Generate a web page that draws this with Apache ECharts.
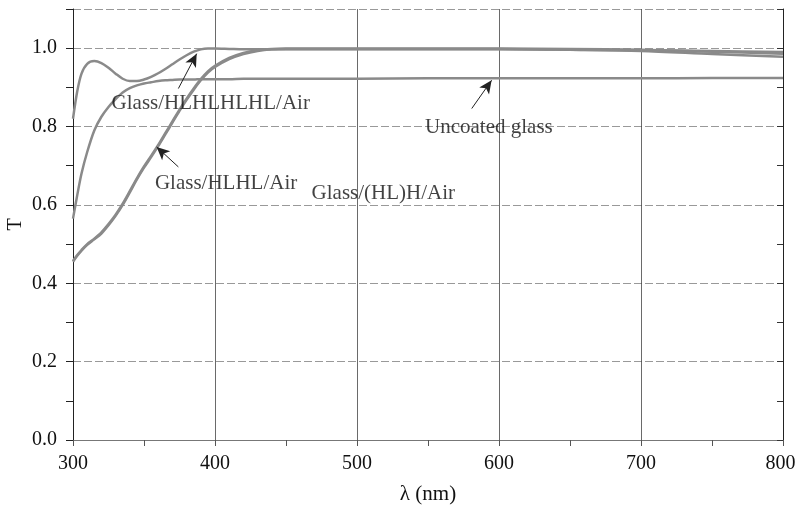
<!DOCTYPE html>
<html>
<head>
<meta charset="utf-8">
<script src="https://cdn.jsdelivr.net/npm/echarts@6/dist/echarts.min.js"></script>
<style>html,body{margin:0;padding:0;background:#fff}#c{width:795px;height:510px}</style>
</head>
<body>
<div id="c"></div>
<script>
// Wavelength grid (nm)
const wavelength = [300,303,306,310,315,320,325,330,335,340,345,350,355,360,365,370,375,380,385,390,395,400,410,420,430,440,450,475,500,550,600,650,700,750,800];
// Transmittance curves
const tHLHLHLHL = [0.82,0.89,0.935,0.96,0.967,0.962,0.95,0.935,0.922,0.916,0.916,0.92,0.927,0.936,0.947,0.959,0.971,0.982,0.991,0.997,0.999,0.999,0.998,0.997,0.997,0.997,0.997,0.997,0.997,0.997,0.997,0.996,0.995,0.993,0.99];
const tUncoated = [0.565,0.625,0.68,0.735,0.79,0.825,0.85,0.87,0.887,0.898,0.905,0.91,0.913,0.916,0.918,0.919,0.92,0.92,0.92,0.921,0.921,0.921,0.921,0.922,0.922,0.922,0.922,0.922,0.922,0.923,0.923,0.923,0.923,0.924,0.924];
const tHLHL = [0.455,0.47,0.483,0.498,0.512,0.527,0.548,0.572,0.6,0.632,0.665,0.695,0.722,0.75,0.78,0.81,0.84,0.868,0.894,0.918,0.938,0.952,0.972,0.985,0.993,0.997,0.998,0.998,0.998,0.998,0.998,0.996,0.993,0.985,0.978];
const tHLH = [0.457,0.472,0.485,0.5,0.514,0.53,0.551,0.575,0.603,0.635,0.668,0.698,0.725,0.753,0.783,0.813,0.843,0.871,0.897,0.921,0.941,0.955,0.975,0.988,0.995,0.998,0.999,0.999,0.999,0.999,0.999,0.998,0.996,0.991,0.986];
// Annotations
const annoText = ['Glass/HLHLHLHL/Air','Uncoated glass','Glass/HLHL/Air','Glass/(HL)H/Air'];
const annoX = [327.2,547.9,357.7,468];
const annoY = [0.859,0.798,0.655,0.629];
const arrowTail = [[374.2,0.897],[580.8,0.846],[374.2,0.697]];
const arrowHead = [[387.1,0.986],[594.8,0.918],[358.9,0.748]];
// Axis labels
const xName = 'λ (nm)';
const yName = 'T';

const font = 'Liberation Serif';
const zip = t => wavelength.map((w,i)=>[w,t[i]]);
const curveStyle = {color:'#8a8a8a', width:2.5};
function curve(name, t){
  return {name, type:'line', data:zip(t), smooth:0.3, showSymbol:false, symbol:'none',
    lineStyle:curveStyle, xAxisIndex:0, yAxisIndex:0, z:3, animation:false};
}
const chart = echarts.init(document.getElementById('c'));
chart.setOption({
  animation:false,
  backgroundColor:'#fff',
  grid:{left:73, right:12, top:9, bottom:70, containLabel:false, outerBoundsMode:'none'},
  xAxis:[
    {type:'value', min:300, max:800, interval:50, position:'bottom',
     name:xName, nameLocation:'middle', nameGap:44,
     nameTextStyle:{fontFamily:font, fontSize:21, color:'#111'},
     axisLine:{show:true, lineStyle:{color:'#222', width:1}},
     axisTick:{show:true, inside:false, length:6, lineStyle:{color:'#222'}},
     axisLabel:{fontFamily:font, fontSize:20, color:'#111', margin:14,
       formatter:v => (v%100!==0 ? '' : (v===800 ? '{e|800}' : String(v))),
       rich:{e:{fontFamily:font, fontSize:20, color:'#111', padding:[0,5,0,0]}}},
     splitLine:{show:false}},
    {type:'value', min:300, max:800, interval:50, position:'top',
     axisLine:{show:true, lineStyle:{color:'#777', width:1}},
     axisTick:{show:true, inside:true, length:6, lineStyle:{color:'#555'}},
     axisLabel:{show:false}, splitLine:{show:false}},
    {type:'value', min:300, max:800, interval:100, show:true, position:'bottom',
     axisLine:{show:false}, axisTick:{show:false}, axisLabel:{show:false},
     splitLine:{show:true, lineStyle:{color:'#444', width:0.8}}}
  ],
  yAxis:[
    {type:'value', min:0, max:1.1, interval:0.1, position:'left',
     name:yName, nameLocation:'middle', nameGap:47, nameRotate:90, nameMoveOverlap:false,
     nameTextStyle:{fontFamily:font, fontSize:20, color:'#111'},
     axisLine:{show:true, lineStyle:{color:'#222', width:1}},
     axisTick:{show:true, inside:false, length:7, lineStyle:{color:'#222'}},
     axisLabel:{fontFamily:font, fontSize:20, color:'#111', margin:16,
       formatter:v => (Math.round(v*10)%2===0 ? v.toFixed(1) : '')},
     splitLine:{show:false}},
    {type:'value', min:0, max:1.1, interval:0.1, position:'right',
     axisLine:{show:true, lineStyle:{color:'#222', width:1}},
     axisTick:{show:true, inside:true, length:6, lineStyle:{color:'#333'}},
     axisLabel:{show:false}, splitLine:{show:false}},
    {type:'value', min:0, max:1.1, interval:0.2, show:true, position:'left',
     axisLine:{show:false}, axisTick:{show:false}, axisLabel:{show:false},
     splitLine:{show:true, lineStyle:{color:'#999', width:1, type:[8,3]}}}
  ],
  series:[
    curve('Glass/HLHLHLHL/Air', tHLHLHLHL),
    curve('Uncoated glass', tUncoated),
    curve('Glass/HLHL/Air', tHLHL),
    curve('Glass/(HL)H/Air', tHLH),
    {name:'labels', type:'scatter', xAxisIndex:0, yAxisIndex:0, symbolSize:0, z:5,
     data:annoText.map((t,i)=>({value:[annoX[i],annoY[i]], name:t})),
     label:{show:true, position:'right', distance:0, formatter:p=>p.name,
       fontFamily:font, fontSize:21, color:'#111', backgroundColor:'transparent'},
     markLine:{silent:true, animation:false, symbol:['none','arrow'], symbolSize:[9,13],
       label:{show:false}, lineStyle:{color:'#222', width:1, type:'solid'},
       data:arrowTail.map((a,i)=>[{coord:a},{coord:arrowHead[i]}])}}
  ]
});
</script>
</body>
</html>
